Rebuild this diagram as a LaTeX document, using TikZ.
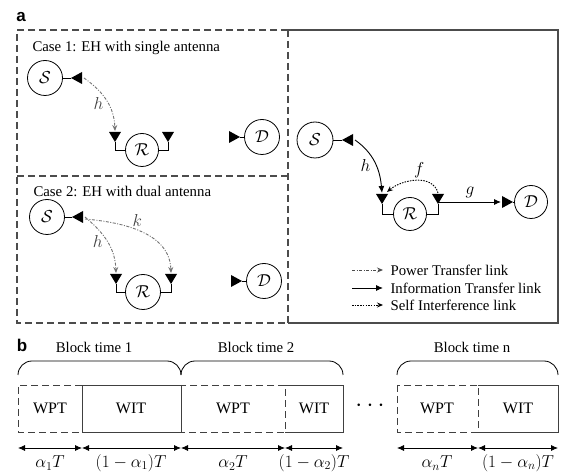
\documentclass[tikz,border=0pt]{standalone}
\usepackage{fontspec}
\setmainfont{Liberation Serif}
\newfontfamily\panelfont{Liberation Sans}
\usetikzlibrary{arrows.meta}
\begin{document}
\begin{tikzpicture}[x=1pt,y=-1pt,
  every node/.style={font=\fontsize{14.8}{17}\selectfont},
  station/.style={circle,draw,line width=0.8pt,minimum size=#1,inner sep=0pt,font=\fontsize{16}{16}\selectfont},
  station/.default=35pt,
  feed/.style={line width=0.8pt},
  frame/.style={draw=black!70,line width=1.1pt},
  dashframe/.style={frame,dash pattern=on 7pt off 4pt},
  power/.style={black!55,line width=0.9pt,dash pattern=on 3pt off 1.5pt on 1pt off 1.5pt,-{Stealth[length=6pt,width=5pt]}},
  info/.style={black,line width=0.9pt,-{Latex[length=7pt,width=6pt]}},
  selfint/.style={black,line width=0.9pt,dash pattern=on 1.5pt off 1.2pt,-{Stealth[length=6pt,width=5pt]}},
  span/.style={line width=0.8pt,{Latex[length=7pt,width=6pt]}-{Latex[length=7pt,width=6pt]}},
  chan/.style={font=\fontsize{16}{16}\selectfont},
  dur/.style={font=\fontsize{16.5}{17}\selectfont,inner sep=0pt},
  slottext/.style={font=\fontsize{16}{17}\selectfont},
  ant down/.pic={\fill (0,0) -- (-6,-10) -- (6,-10) -- cycle;
    \coordinate (-top) at (0,-11); \coordinate (-side) at (1,-2);},
  ant left/.pic={\fill (0,0) -- (11,-6) -- (11,6) -- cycle;
    \coordinate (-out) at (13,0);},
  ant right/.pic={\fill (0,0) -- (-11,-6) -- (-11,6) -- cycle;
    \coordinate (-in) at (-12,0);},
  brace/.style={line width=0.8pt},
  slot/.style={line width=0.9pt,draw=black!75},
  dslot/.style={slot,dash pattern=on 7pt off 4pt}
]
\useasboundingbox (0,0) rectangle (563,473);

% ---------------- panel a ----------------
\node[font=\panelfont\bfseries\fontsize{17}{17}\selectfont] (la) at (21,17) {a};

% frames
\draw[dashframe] (288,30) -- (17,30) -- (17,323) -- (288,323);
\draw[dashframe] (17,176) -- (288,176);
\draw[dashframe] (288,30) -- (288,323);
\draw[frame] (288,30) -- (558,30) -- (558,323) -- (288,323);

% Case 1
\node[anchor=west] (c1) at (29,48) {Case 1: EH with single antenna};
\node[station] (S1) at (45,78) {$\mathcal{S}$};
\node[station=33pt] (R1) at (142,150) {$\mathcal{R}$};
\node[station] (D1) at (262,137) {$\mathcal{D}$};
\pic (s1a) at (71,78) {ant left};
\pic (r1l) at (115,142) {ant down};
\pic (r1r) at (168,142) {ant down};
\pic (d1a) at (240,137) {ant right};
\draw[feed] (S1.east) -- (71,78);
\draw[feed] (R1.west) -| (115,142);
\draw[feed] (R1.east) -| (168,142);
\draw[feed] (240,137) -- (D1.west);
\draw[power] (s1a-out) to[out=-35,in=92] node[chan,pos=0.55,left=1pt,text=black!75] {$h$} (r1l-top);

% Case 2
\node[anchor=west] (c2) at (30,191) {Case 2: EH with dual antenna};
\node[station] (S2) at (47,217) {$\mathcal{S}$};
\node[station] (R2) at (143,292) {$\mathcal{R}$};
\node[station] (D2) at (264,281) {$\mathcal{D}$};
\pic (s2a) at (72,217) {ant left};
\pic (r2l) at (116,284) {ant down};
\pic (r2r) at (171,284) {ant down};
\pic (d2a) at (242,281) {ant right};
\draw[feed] (S2.east) -- (72,217);
\draw[feed] (R2.west) -| (116,284);
\draw[feed] (R2.east) -| (171,284);
\draw[feed] (242,281) -- (D2.west);
\draw[power] (s2a-out) to[out=-40,in=92] node[chan,pos=0.5,left=1pt,text=black!75] {$h$} (r2l-top);
\draw[power] ([yshift=-2pt]s2a-out) to[out=-5,in=92] node[chan,pos=0.45,above=0pt,text=black!75] {$k$} (r2r-top);

% Relay network
\node[station=36pt] (S3) at (315,140) {$\mathcal{S}$};
\node[station=33pt] (R3) at (410,214) {$\mathcal{R}$};
\node[station=33pt] (D3) at (531,202) {$\mathcal{D}$};
\pic (s3a) at (342,140) {ant left};
\pic (r3l) at (382,204) {ant down};
\pic (r3r) at (438,204) {ant down};
\pic (d3a) at (513,202) {ant right};
\draw[feed] (S3.east) -- (342,140);
\draw[feed] (R3.west) -| (382,204);
\draw[feed] (R3.east) -| (438,204);
\draw[feed] (513,202) -- (D3.west);
\draw[info] (s3a-out) to[out=-35,in=95] node[chan,pos=0.55,left=2pt] {$h$} (r3l-top);
\draw[selfint] (r3r-top) to[out=105,in=40] node[chan,pos=0.45,above=-1pt] {$f$} ([xshift=5pt,yshift=1pt]r3l-top);
\draw[info] (r3r-side) -- node[chan,above=0pt] {$g$} (d3a-in);

% legend
\coordinate (lp1) at (352,270); \coordinate (lp2) at (383,270);
\coordinate (li1) at (352,288); \coordinate (li2) at (383,288);
\coordinate (ls1) at (352,305); \coordinate (ls2) at (383,305);
\draw[power,black!70] (lp1) -- (lp2);
\draw[info] (li1) -- (li2);
\draw[selfint] (ls1) -- (ls2);
\node[anchor=west] (tp) at (387,270) {Power Transfer link};
\node[anchor=west] (ti) at (387,288) {Information Transfer link};
\node[anchor=west] (ts) at (387,305) {Self Interference link};

% ---------------- panel b ----------------
\node[font=\panelfont\bfseries\fontsize{17}{17}\selectfont] (lb) at (22,345) {b};
\node (bt1) at (94,347) {Block time 1};
\node (bt2) at (256,347) {Block time 2};
\node (btn) at (472,347) {Block time n};

\draw[brace] (18,375) to[out=90,in=180] (32,361) -- (167,361) to[out=0,in=90] (181,375);
\draw[brace] (181,375) to[out=90,in=180] (195,361) -- (329,361) to[out=0,in=90] (343,375);
\draw[brace] (397,375) to[out=90,in=180] (411,361) -- (544,361) to[out=0,in=90] (558,375);

% slots
\draw[slot] (82,385) rectangle (181,432);
\draw[dslot] (82,385) -- (18,385) -- (18,432) -- (82,432);
\draw[slot] (285,385) -- (343,385) -- (343,432) -- (285,432);
\draw[dslot] (181,385) rectangle (285,432);
\draw[slot] (478,385) -- (558,385) -- (558,432) -- (478,432);
\draw[dslot] (397,385) rectangle (478,432);
\node[slottext] (w1) at (50,408) {WPT};
\node[slottext] (i1) at (131,408) {WIT};
\node[slottext] (w2) at (233,408) {WPT};
\node[slottext] (i2) at (314,408) {WIT};
\node[slottext] (wn) at (437,408) {WPT};
\node[slottext] (in) at (518,408) {WIT};
\node[font=\fontsize{28}{28}\selectfont] (dots) at (370,406) {$\cdots$};

% durations
\coordinate (t0) at (18,448); \coordinate (t1) at (82,448);
\coordinate (t2) at (181,448); \coordinate (t3) at (285,448);
\coordinate (t4) at (343,448); \coordinate (t5) at (397,448);
\coordinate (t6) at (478,448); \coordinate (t7) at (558,448);
\draw[span] (t0) -- (t1);
\draw[span] (t1) -- (t2);
\draw[span] (t2) -- (t3);
\draw[span] (t3) -- (t4);
\draw[span] (t5) -- (t6);
\draw[span] (t6) -- (t7);
\node[dur] (a1) at (50,463) {$\alpha_1T$};
\node[dur] (b1) at (131,463) {$(1-\alpha_1)T$};
\node[dur] (a2) at (233,463) {$\alpha_2T$};
\node[dur] (b2) at (314,463) {$(1-\alpha_2)T$};
\node[dur] (an) at (437,463) {$\alpha_nT$};
\node[dur] (bn) at (518,463) {$(1-\alpha_n)T$};
\end{tikzpicture}
\end{document}
